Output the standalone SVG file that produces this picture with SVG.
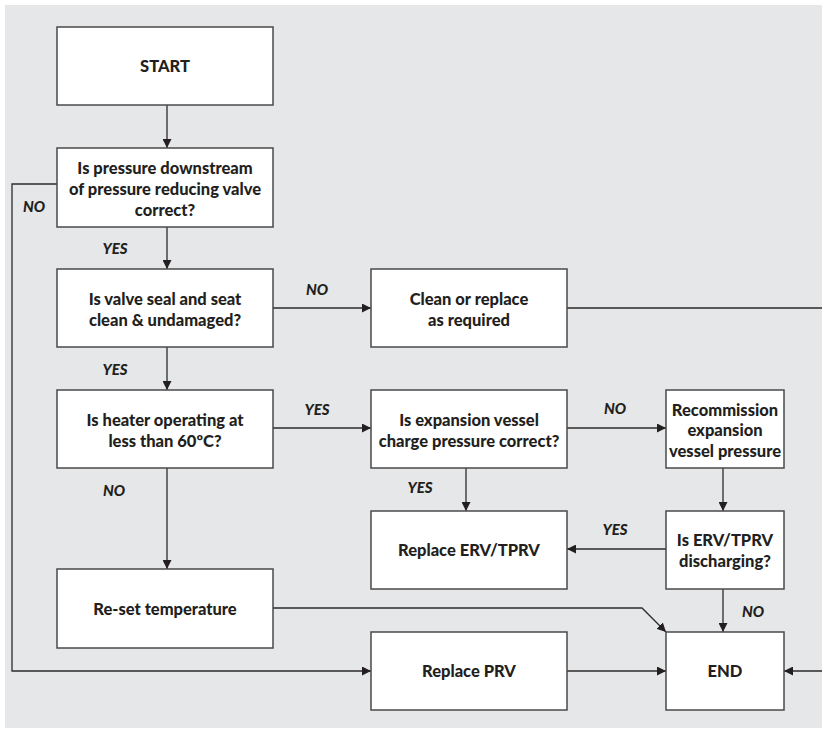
<svg xmlns="http://www.w3.org/2000/svg" width="822" height="729" viewBox="0 0 822 729">
<style>
.box{fill:#ffffff;stroke:#4a4a4a;stroke-width:1.5}
.t{font-family:Lato,"Open Sans","Liberation Sans",sans-serif;font-weight:900;font-size:16.5px;fill:#231f20;text-anchor:middle}
.l{font-family:Lato,"Open Sans","Liberation Sans",sans-serif;font-weight:900;font-style:italic;font-size:15px;fill:#231f20;text-anchor:middle}
.c{fill:none;stroke:#2b2b2b;stroke-width:1.3}
</style>
<defs>
<marker id="arr" viewBox="0 0 10 10" refX="10" refY="5" markerWidth="9" markerHeight="9" markerUnits="userSpaceOnUse" orient="auto">
<path d="M0,0 L10,5 L0,10 Z" fill="#231f20"/>
</marker>
</defs>
<rect x="5" y="5" width="817" height="723" fill="#e6e7e8"/>
<g id="connectors">
<path class="c" d="M167,105 V148" marker-end="url(#arr)"/>
<path class="c" d="M167,227 V269" marker-end="url(#arr)"/>
<path class="c" d="M167,347 V390" marker-end="url(#arr)"/>
<path class="c" d="M167,468 V569" marker-end="url(#arr)"/>
<path class="c" d="M57,184 H12 V671 H371" marker-end="url(#arr)"/>
<path class="c" d="M273,308 H371" marker-end="url(#arr)"/>
<path class="c" d="M567,308 H830 V671 H784" marker-end="url(#arr)"/>
<path class="c" d="M273,428 H371" marker-end="url(#arr)"/>
<path class="c" d="M567,428 H666" marker-end="url(#arr)"/>
<path class="c" d="M466,468 V511" marker-end="url(#arr)"/>
<path class="c" d="M723,468 V511" marker-end="url(#arr)"/>
<path class="c" d="M666,549 H567" marker-end="url(#arr)"/>
<path class="c" d="M723,589 V632" marker-end="url(#arr)"/>
<path class="c" d="M273,608 H642 L666,632" marker-end="url(#arr)"/>
<path class="c" d="M567,671 H666" marker-end="url(#arr)"/>
<text class="l" x="34" y="212">NO</text>
<text class="l" x="115" y="254">YES</text>
<text class="l" x="317" y="295">NO</text>
<text class="l" x="115" y="375">YES</text>
<text class="l" x="317" y="415">YES</text>
<text class="l" x="615" y="414">NO</text>
<text class="l" x="114" y="496">NO</text>
<text class="l" x="420" y="493">YES</text>
<text class="l" x="615" y="535">YES</text>
<text class="l" x="753" y="617">NO</text>
</g>
<g id="start">
<rect class="box" x="57" y="27" width="216" height="78"/>
<text class="t" x="165" y="71.5">START</text>
</g>
<g id="q-pressure">
<rect class="box" x="57" y="148" width="216" height="79"/>
<text class="t" x="165" y="173.5">Is pressure downstream</text>
<text class="t" x="165" y="194.5">of pressure reducing valve</text>
<text class="t" x="165" y="215.5">correct?</text>
</g>
<g id="q-seal">
<rect class="box" x="57" y="269" width="216" height="78"/>
<text class="t" x="165" y="304.5">Is valve seal and seat</text>
<text class="t" x="165" y="325.5">clean &amp; undamaged?</text>
</g>
<g id="q-heater">
<rect class="box" x="57" y="390" width="216" height="78"/>
<text class="t" x="165" y="425.5">Is heater operating at</text>
<text class="t" x="165" y="446.5">less than 60ºC?</text>
</g>
<g id="reset">
<rect class="box" x="57" y="569" width="216" height="79"/>
<text class="t" x="165" y="614.5">Re-set temperature</text>
</g>
<g id="clean">
<rect class="box" x="371" y="269" width="196" height="78"/>
<text class="t" x="469" y="304.5">Clean or replace</text>
<text class="t" x="469" y="325.5">as required</text>
</g>
<g id="q-vessel">
<rect class="box" x="371" y="390" width="196" height="78"/>
<text class="t" x="469" y="425.5">Is expansion vessel</text>
<text class="t" x="469" y="446.5">charge pressure correct?</text>
</g>
<g id="recommission">
<rect class="box" x="666" y="390" width="118" height="78"/>
<text class="t" x="725" y="415.5">Recommission</text>
<text class="t" x="725" y="436">expansion</text>
<text class="t" x="725" y="456.5">vessel pressure</text>
</g>
<g id="replace-erv">
<rect class="box" x="371" y="511" width="196" height="78"/>
<text class="t" x="469" y="555.5">Replace ERV/TPRV</text>
</g>
<g id="q-discharge">
<rect class="box" x="666" y="511" width="118" height="78"/>
<text class="t" x="725" y="545.5">Is ERV/TPRV</text>
<text class="t" x="725" y="566.5">discharging?</text>
</g>
<g id="replace-prv">
<rect class="box" x="371" y="632" width="196" height="78"/>
<text class="t" x="469" y="676.5">Replace PRV</text>
</g>
<g id="end">
<rect class="box" x="666" y="632" width="118" height="78"/>
<text class="t" x="725" y="676.5">END</text>
</g>
</svg>
